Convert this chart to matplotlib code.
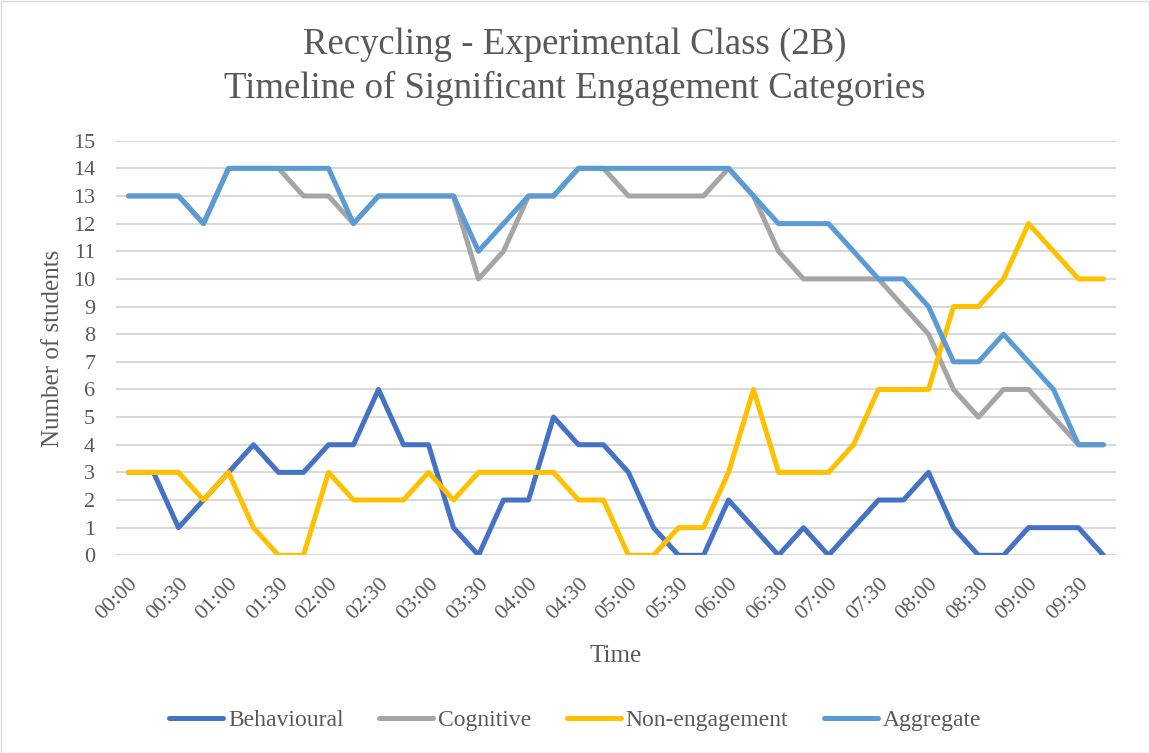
import matplotlib
matplotlib.use('Agg')
import matplotlib.pyplot as plt
from matplotlib.patches import Rectangle

# one observation every 15 seconds, 00:00 - 09:45
times = ['%02d:%02d' % divmod(s, 60) for s in range(0, 600, 15)]
tick_labels = times[::2]

behavioural = [3, 3, 1, 2, 3, 4, 3, 3, 4, 4, 6, 4, 4, 1, 0, 2, 2, 5, 4, 4,
               3, 1, 0, 0, 2, 1, 0, 1, 0, 1, 2, 2, 3, 1, 0, 0, 1, 1, 1, 0]
cognitive = [13, 13, 13, 12, 14, 14, 14, 13, 13, 12, 13, 13, 13, 13, 10, 11, 13, 13, 14, 14,
             13, 13, 13, 13, 14, 13, 11, 10, 10, 10, 10, 9, 8, 6, 5, 6, 6, 5, 4, 4]
non_engagement = [3, 3, 3, 2, 3, 1, 0, 0, 3, 2, 2, 2, 3, 2, 3, 3, 3, 3, 2, 2,
                  0, 0, 1, 1, 3, 6, 3, 3, 3, 4, 6, 6, 6, 9, 9, 10, 12, 11, 10, 10]
aggregate = [13, 13, 13, 12, 14, 14, 14, 14, 14, 12, 13, 13, 13, 13, 11, 12, 13, 13, 14, 14,
             14, 14, 14, 14, 14, 13, 12, 12, 12, 11, 10, 10, 9, 7, 7, 8, 7, 6, 4, 4]

series = [('Behavioural', behavioural, '#4472C4'),
          ('Cognitive', cognitive, '#A5A5A5'),
          ('Non-engagement', non_engagement, '#FFC000'),
          ('Aggregate', aggregate, '#5B9BD5')]

text_color = '#595959'
plt.rcParams['font.family'] = ['Liberation Serif', 'DejaVu Serif']

W, H = 1150, 753
fig = plt.figure(figsize=(W / 100, H / 100), dpi=100)
fig.patches.append(Rectangle((0.5 / W, 0.5 / H), 1 - 1.5 / W, 1 - 1.5 / H,
                             transform=fig.transFigure, fill=False,
                             edgecolor='#D9D9D9', linewidth=1))

ax = fig.add_axes([116 / W, 1 - 555.3 / H, 1000 / W, (555.3 - 140.7) / H])

x = list(range(len(times)))
for name, values, color in series:
    ax.plot(x, values, color=color, linewidth=3.6, label=name,
            solid_capstyle='round', solid_joinstyle='round')

ax.set_xlim(-0.5, len(times) - 0.5)
ax.set_ylim(0, 15)
ax.set_yticks(range(0, 16))
ax.set_xticks(x[::2])
ax.set_xticklabels(tick_labels, rotation=45, ha='right', rotation_mode='anchor')
ax.tick_params(axis='both', length=0, labelsize=16, colors=text_color)
ax.tick_params(axis='x', pad=14)
ax.tick_params(axis='y', pad=15)

ax.grid(axis='y', color='#D9D9D9', linewidth=1.5)
ax.set_axisbelow(True)
for side in ['top', 'right', 'left', 'bottom']:
    ax.spines[side].set_visible(False)

ax.set_xlabel('Time', fontsize=18, color=text_color)
ax.set_ylabel('Number of students', fontsize=18, color=text_color)
ax.xaxis.set_label_coords(0.5, -0.217)
ax.yaxis.set_label_coords(-0.052, 0.5)

fig.text(0.5, 1 - 45 / H, 'Recycling - Experimental Class (2B)', ha='center', va='center',
         fontsize=26.5, color=text_color)
fig.text(0.5, 1 - 88 / H, 'Timeline of Significant Engagement Categories', ha='center',
         va='center', fontsize=26.5, color=text_color)

fig.legend(loc='center', bbox_to_anchor=(0.5, 1 - 720 / H), ncol=4, frameon=False,
           fontsize=17, labelcolor=text_color, handlelength=2.3, handletextpad=0.2,
           columnspacing=1.5)

fig.savefig('out.png', dpi=100)
